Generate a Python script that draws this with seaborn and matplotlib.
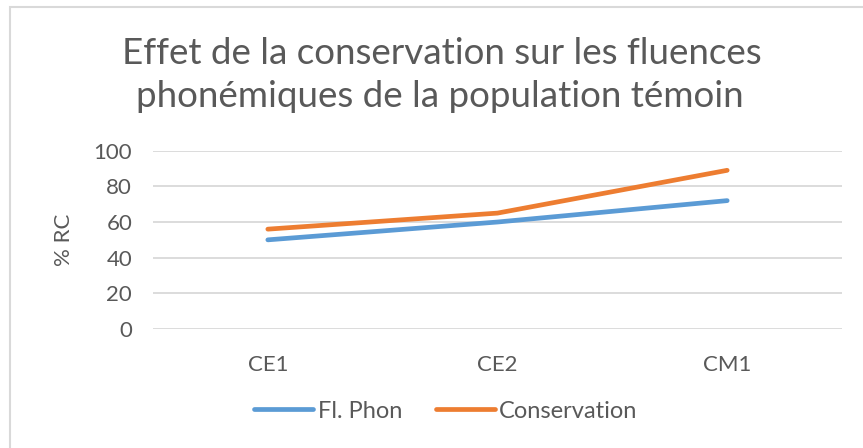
import pandas as pd
import matplotlib
matplotlib.use("Agg")
import matplotlib.pyplot as plt
import seaborn as sns
from matplotlib.patches import Rectangle

# Données
niveaux = ["CE1", "CE2", "CM1"]
fl_phon = [50, 60, 72]
conservation = [56, 65, 89]
series = ["Fl. Phon", "Conservation"]

df = pd.DataFrame({
    "niveau": niveaux * 2,
    "valeur": fl_phon + conservation,
    "serie": [series[0]] * 3 + [series[1]] * 3,
})

sns.set_style("white")
plt.rcParams["font.family"] = ["Lato", "DejaVu Sans"]
gris = "#595959"

fig = plt.figure(figsize=(8.63, 4.48), dpi=100)
ax = fig.add_axes([153 / 863, 1 - 329 / 448, (842 - 153) / 863, (329 - 150.7) / 448])

sns.lineplot(data=df, x="niveau", y="valeur", hue="serie", sort=False,
             palette=["#5B9BD5", "#ED7D31"], linewidth=3.4, ax=ax,
             solid_capstyle="round", legend=True)

ax.set_ylim(0, 100)
ax.set_xlim(-0.5, 2.5)
ax.set_yticks(range(0, 101, 20))
ax.yaxis.grid(True, color="#D9D9D9", linewidth=1.3)
ax.set_axisbelow(True)
for s in ax.spines.values():
    s.set_visible(False)
ax.tick_params(axis="both", length=0, labelsize=16, labelcolor=gris)
ax.tick_params(axis="x", pad=19)
ax.tick_params(axis="y", pad=15)
ax.set_xlabel("")
ax.set_ylabel("% RC", fontsize=16, color=gris, labelpad=14)

leg = ax.legend(loc="center", bbox_to_anchor=(446 / 863, 1 - 411 / 448),
                bbox_transform=fig.transFigure, ncol=2, frameon=False,
                fontsize=17, handlelength=2.5, handletextpad=0.2,
                columnspacing=1.4)
for t in leg.get_texts():
    t.set_color(gris)
for h in leg.get_lines():
    h.set_linewidth(3.4)
    h.set_solid_capstyle("round")

fig.text(442 / 863, 1 - 64 / 448, "Effet de la conservation sur les fluences",
         ha="center", va="baseline", fontsize=26.5, color=gris)
fig.text(440 / 863, 1 - 107 / 448, "phonémiques de la population témoin",
         ha="center", va="baseline", fontsize=26.5, color=gris)

# cadre de la zone de graphique
fig.patches.append(Rectangle((10 / 863, -0.1), 1.2, 1.1 - 7 / 448,
                             transform=fig.transFigure, fill=False,
                             edgecolor="#D9D9D9", linewidth=1.5))

fig.savefig("out.png", dpi=100)
